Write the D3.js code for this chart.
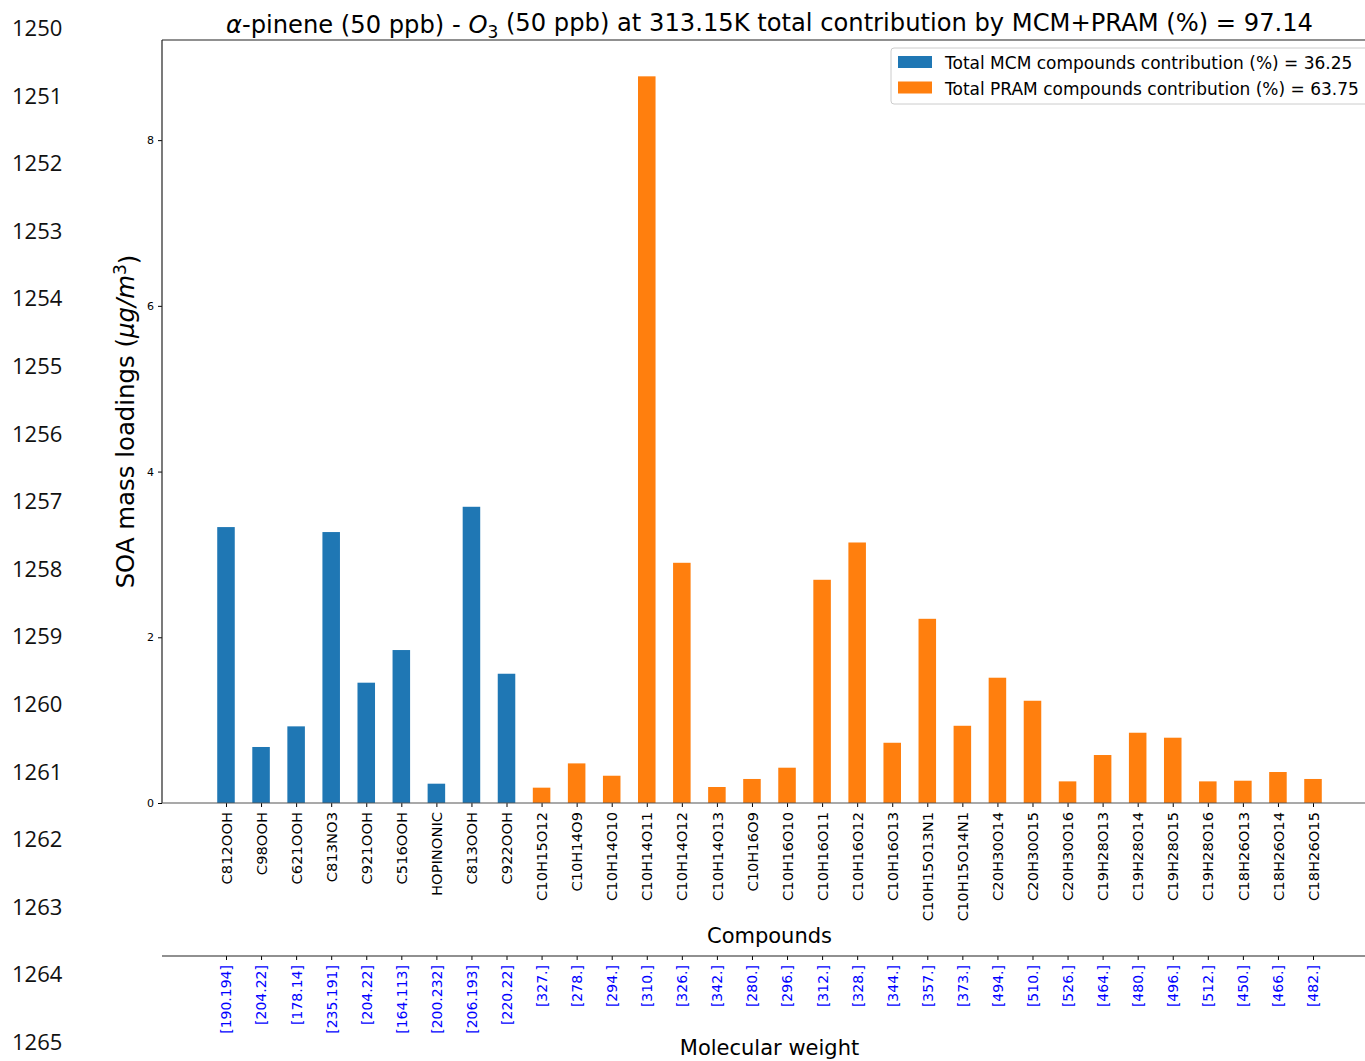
<!DOCTYPE html>
<html>
<head>
<meta charset="utf-8">
<script src="https://cdn.jsdelivr.net/npm/d3@7"></script>
<style>
  html, body { margin: 0; padding: 0; background: #fff; overflow: hidden; }
  svg { display: block; }
  text { font-family: "DejaVu Sans", sans-serif; }
</style>
</head>
<body>
<svg id="chart" width="1365" height="1061"></svg>
<script>
// Compound names, grouped by mechanism
const mcmCompounds = ["C812OOH", "C98OOH", "C621OOH", "C813NO3", "C921OOH", "C516OOH", "HOPINONIC", "C813OOH", "C922OOH"];
const pramCompounds = ["C10H15O12", "C10H14O9", "C10H14O10", "C10H14O11", "C10H14O12", "C10H14O13",
  "C10H16O9", "C10H16O10", "C10H16O11", "C10H16O12", "C10H16O13", "C10H15O13N1", "C10H15O14N1",
  "C20H30O14", "C20H30O15", "C20H30O16", "C19H28O13", "C19H28O14", "C19H28O15", "C19H28O16",
  "C18H26O13", "C18H26O14", "C18H26O15"];

// SOA mass loadings (µg/m³)
const mcmValues = [3.33, 0.676, 0.925, 3.27, 1.452, 1.846, 0.233, 3.575, 1.56];
const pramValues = [0.185, 0.478, 0.329, 8.77, 2.899, 0.193, 0.29, 0.426, 2.694, 3.144, 0.727, 2.223,
  0.932, 1.512, 1.234, 0.261, 0.579, 0.848, 0.788, 0.261, 0.269, 0.374, 0.29];

// Molecular weights shown on the secondary axis
const molWeights = ["[190.194]", "[204.22]", "[178.14]", "[235.191]", "[204.22]", "[164.113]", "[200.232]",
  "[206.193]", "[220.22]", "[327.]", "[278.]", "[294.]", "[310.]", "[326.]", "[342.]", "[280.]", "[296.]",
  "[312.]", "[328.]", "[344.]", "[357.]", "[373.]", "[494.]", "[510.]", "[526.]", "[464.]", "[480.]",
  "[496.]", "[512.]", "[450.]", "[466.]", "[482.]"];

const yTicks = [0, 2, 4, 6, 8];
const lineNumbers = ["1250", "1251", "1252", "1253", "1254", "1255", "1256", "1257",
  "1258", "1259", "1260", "1261", "1262", "1263", "1264", "1265"];

const mcmTotal = "36.25", pramTotal = "63.75", grandTotal = "97.14";
const colors = { MCM: "#1f77b4", PRAM: "#ff7f0e" };

// Combined table of bars
const rows = mcmCompounds.map((c, i) => ({ name: c, value: mcmValues[i], group: "MCM" }))
  .concat(pramCompounds.map((c, i) => ({ name: c, value: pramValues[i], group: "PRAM" })));
rows.forEach((r, i) => { r.idx = i; r.mw = molWeights[i]; });

const svg = d3.select("#chart");
const plotLeft = 162, plotRight = 1377, plotTop = 40, plotBottom = 803, mwAxisY = 956;
const barWidth = 0.5;

// matplotlib-style 5% margins around the data
const n = rows.length;
const span = (n - 1 + barWidth);
const xMin = -barWidth / 2 - 0.05 * span, xMax = n - 1 + barWidth / 2 + 0.05 * span;
const x = d3.scaleLinear().domain([xMin, xMax]).range([plotLeft, plotRight]);
const yMax = d3.max(rows, d => d.value) * 1.05;
const y = d3.scaleLinear().domain([0, yMax]).range([plotBottom, plotTop]);

// Document line numbers down the left margin
const ln = d3.scaleLinear().domain([0, lineNumbers.length - 1]).range([28, 1042]);
svg.append("g").selectAll("text").data(lineNumbers).join("text")
  .attr("x", 12).attr("y", (d, i) => ln(i)).attr("dy", "0.36em")
  .style("font-family", "'Open Sans', sans-serif").style("font-size", "22px").attr("fill", "#111")
  .text(d => d);

// Bars
svg.append("g").selectAll("rect").data(rows).join("rect")
  .attr("x", d => x(d.idx - barWidth / 2))
  .attr("width", d => x(d.idx + barWidth / 2) - x(d.idx - barWidth / 2))
  .attr("y", d => y(d.value))
  .attr("height", d => y(0) - y(d.value))
  .attr("fill", d => colors[d.group]);

// Y axis
const yAxis = svg.append("g").attr("transform", `translate(${plotLeft},0)`)
  .call(d3.axisLeft(y).tickValues(yTicks).tickSize(4).tickPadding(4).tickFormat(d3.format("d")));
yAxis.select(".domain").remove();
yAxis.selectAll("text").style("font-size", "11px").attr("fill", "#000");
yAxis.selectAll("line").attr("stroke", "#000").attr("stroke-width", 1);

// X axis with compound names
const xAxis = svg.append("g").attr("transform", `translate(0,${plotBottom})`)
  .call(d3.axisBottom(x).tickValues(rows.map(d => d.idx)).tickSize(4).tickFormat(i => rows[i].name));
xAxis.select(".domain").remove();
xAxis.selectAll("line").attr("stroke", "#000");
xAxis.selectAll("text")
  .style("font-size", "14.7px").attr("fill", "#000")
  .attr("transform", "rotate(-90)")
  .attr("text-anchor", "end")
  .attr("x", -9).attr("y", 0).attr("dy", "0.35em");

// Frame: left, top, bottom and right spines
svg.append("line").attr("x1", plotLeft).attr("x2", plotLeft).attr("y1", plotTop).attr("y2", plotBottom)
  .attr("stroke", "#222").attr("stroke-width", 1.2);
svg.append("line").attr("x1", plotLeft).attr("x2", plotRight).attr("y1", plotTop).attr("y2", plotTop)
  .attr("stroke", "#222").attr("stroke-width", 1.2);
svg.append("line").attr("x1", plotLeft).attr("x2", plotRight).attr("y1", plotBottom).attr("y2", plotBottom)
  .attr("stroke", "#555").attr("stroke-width", 1.2);
svg.append("line").attr("x1", plotRight).attr("x2", plotRight).attr("y1", plotTop).attr("y2", plotBottom)
  .attr("stroke", "#222").attr("stroke-width", 1.2);

// Secondary axis: molecular weights
const mwAxis = svg.append("g").attr("transform", `translate(0,${mwAxisY})`)
  .call(d3.axisBottom(x).tickValues(rows.map(d => d.idx)).tickSize(4).tickFormat(i => rows[i].mw));
mwAxis.select(".domain").remove();
mwAxis.selectAll("line").attr("stroke", "#000");
mwAxis.selectAll("text")
  .style("font-size", "14px").attr("fill", "#0000ff")
  .attr("transform", "rotate(-90)")
  .attr("text-anchor", "end")
  .attr("x", -9).attr("y", 0).attr("dy", "0.35em");
svg.append("line").attr("x1", plotLeft).attr("x2", plotRight).attr("y1", mwAxisY).attr("y2", mwAxisY)
  .attr("stroke", "#222").attr("stroke-width", 1.2);

// Axis titles
const cx = (plotLeft + plotRight) / 2;
svg.append("text").attr("x", cx).attr("y", 943).attr("text-anchor", "middle")
  .style("font-size", "21px").text("Compounds");
svg.append("text").attr("x", cx).attr("y", 1055).attr("text-anchor", "middle")
  .style("font-size", "21px").text("Molecular weight");

const yl = svg.append("text")
  .attr("transform", `translate(134,${(plotTop + plotBottom) / 2}) rotate(-90)`)
  .attr("text-anchor", "middle").style("font-size", "24.4px");
yl.append("tspan").text("SOA mass loadings (");
yl.append("tspan").style("font-style", "italic").text("µg/m");
yl.append("tspan").attr("dy", "-0.45em").style("font-size", "17px").text("3");
yl.append("tspan").attr("dy", "0.45em").text(")");

// Title
const title = svg.append("text").attr("x", cx).attr("y", 33).attr("text-anchor", "middle")
  .style("font-size", "24.2px");
title.append("tspan").style("font-style", "italic").text("α");
title.append("tspan").text("-pinene (50 ppb) - ");
title.append("tspan").style("font-style", "italic").text("O");
title.append("tspan").attr("dy", "0.3em").style("font-size", "17px").text("3");
title.append("tspan").attr("dy", "-0.3em").text(` (50 ppb) at 313.15K total contribution by MCM+PRAM (%) = ${grandTotal}`);

// Legend
const legendItems = [
  { label: `Total MCM compounds contribution (%) = ${mcmTotal}`, color: colors.MCM },
  { label: `Total PRAM compounds contribution (%) = ${pramTotal}`, color: colors.PRAM }
];
const lg = svg.append("g").attr("transform", "translate(891,48)");
lg.append("rect").attr("width", 490).attr("height", 56).attr("rx", 3)
  .attr("fill", "#fff").attr("fill-opacity", 0.8).attr("stroke", "#ccc");
const li = lg.selectAll("g").data(legendItems).join("g")
  .attr("transform", (d, i) => `translate(7,${8 + i * 25.5})`);
li.append("rect").attr("width", 34).attr("height", 12).attr("fill", d => d.color);
li.append("text").attr("x", 47).attr("y", 7).attr("dy", "0.36em")
  .style("font-size", "17px").text(d => d.label);
</script>
</body>
</html>
